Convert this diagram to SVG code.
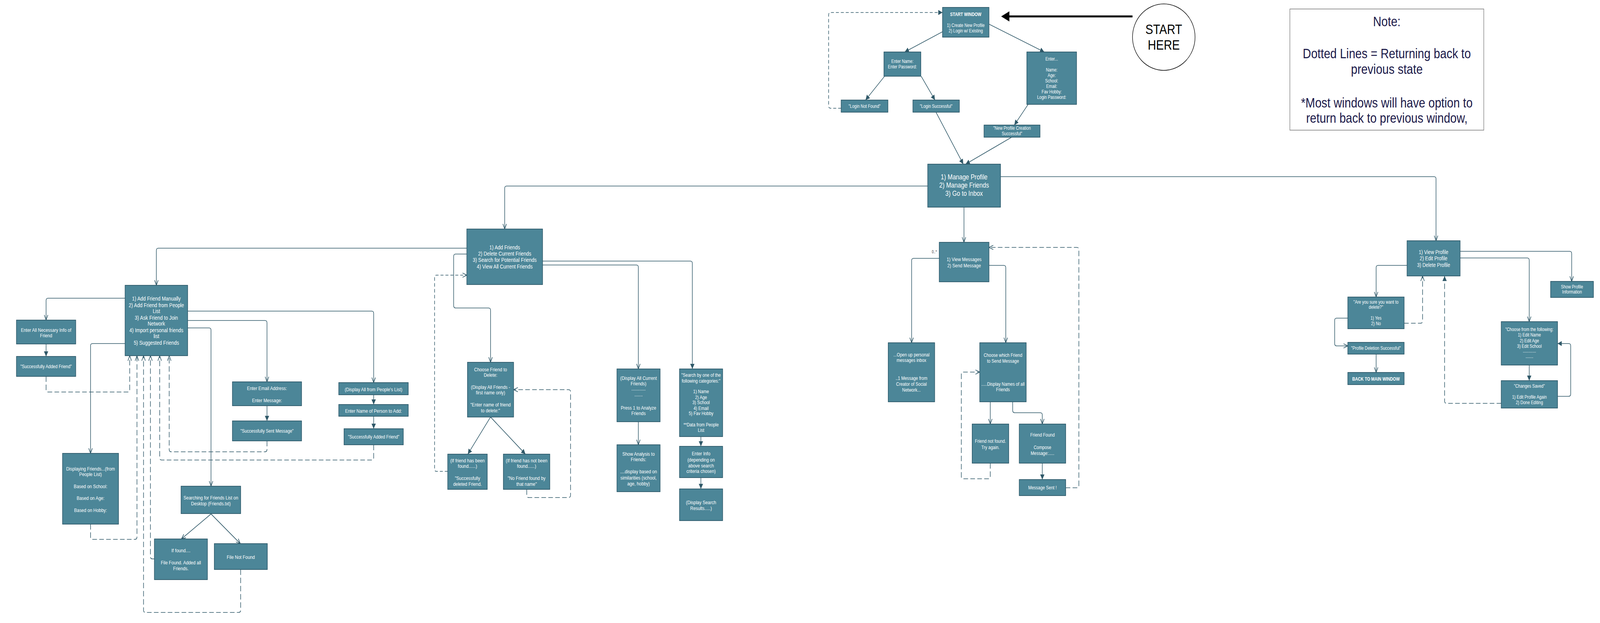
<svg xmlns="http://www.w3.org/2000/svg" width="4860" height="1594" viewBox="0 0 4860 1594" preserveAspectRatio="none">
<style>
svg{width:100vw;height:100vh}
.n{fill:#4c8698;stroke:#2e5a6b;stroke-width:1.8}
.t{font-family:"Liberation Sans",Arial,Helvetica,sans-serif;fill:#ffffff;text-anchor:middle;font-size:13px}
.s12{font-size:12px}.s125{font-size:12.5px}.s14{font-size:14px}.s143{font-size:14.3px}.s144{font-size:14.4px}.s18{font-size:18px}
.b{font-weight:bold}
.c{fill:none;stroke:#2f5868;stroke-width:1.7}
.o{marker-end:url(#ao)}
.f{marker-end:url(#af)}
.d{stroke-dasharray:14,7}
.d2{stroke-dasharray:9,6}
.note{font-family:"Liberation Sans",Arial,Helvetica,sans-serif;fill:#1c1a4a;text-anchor:middle;font-size:35px}
.lbl{font-family:"Liberation Sans",Arial,sans-serif;font-size:10px;fill:#333;text-anchor:middle}
.big{font-family:"Liberation Sans",Arial,sans-serif;font-size:35px;fill:#000;text-anchor:middle}
</style>
<defs>
<marker id="ao" markerUnits="userSpaceOnUse" markerWidth="16" markerHeight="14" refX="14" refY="7" orient="auto">
<path d="M1,1.5 L14,7 L1,12.5" fill="none" stroke="#2f5868" stroke-width="1.8"/>
</marker>
<marker id="af" markerUnits="userSpaceOnUse" markerWidth="14" markerHeight="14" refX="13" refY="7" orient="auto">
<path d="M0,0.5 L13,7 L0,13.5 z" fill="#2f5868"/>
</marker>
</defs>
<rect width="4860" height="1594" fill="#ffffff"/>

<g id="connectors">
<path class="c f" d="M2870,78 L2748,133"/>
<path class="c f" d="M3000,60 L3172,133"/>
<path class="c f" d="M2687,195 L2629,256"/>
<path class="c f" d="M2798,195 L2840,256"/>
<path class="c f" d="M3123,267 L3081,320"/>
<path class="c f" d="M2843,287 L2926,420"/>
<path class="c f" d="M3073,351 L2933,420"/>
<line x1="3440" y1="42" x2="3060" y2="42" stroke="#000" stroke-width="5"/>
<polygon points="3041,42 3066,29 3066,55" fill="#000"/>
<path class="c o" d="M2818,476 H1539 Q1533,476 1533,482 V586"/>
<path class="c o" d="M3039,452 H4356 Q4362,452 4362,458 V616"/>
<path class="c o" d="M2928,530 V620"/>
<path class="c o" d="M1418,635 H481 Q475,635 475,641 V730"/>
<path class="c o" d="M1418,650 H1384 Q1378,650 1378,656 V782 Q1378,788 1384,788 H1484 Q1490,788 1490,794 V927"/>
<path class="c f" d="M1648,668 H2097 Q2103,668 2103,674 V944"/>
<path class="c o" d="M1648,678 H1933 Q1939,678 1939,684 V944"/>
<path class="c o" d="M380,763 H146 Q140,763 140,769 V819"/>
<path class="c o" d="M380,879 H281 Q275,879 275,885 V1160"/>
<path class="c o" d="M570,796 H1129 Q1135,796 1135,802 V979"/>
<path class="c o" d="M570,820 H805 Q811,820 811,826 V977"/>
<path class="c o" d="M570,839 H635 Q641,839 641,845 V1244"/>
<path class="c f" d="M140,880 V912"/>
<path class="c f" d="M811,1038 V1077"/>
<path class="c f" d="M1135,1010 V1035"/>
<path class="c f" d="M1135,1065 V1097"/>
<path class="c o" d="M641,1315 L551,1379"/>
<path class="c o" d="M641,1315 L730,1391"/>
<path class="c f" d="M1490,1067 L1421,1162"/>
<path class="c f" d="M1490,1067 L1596,1162"/>
<path class="c o" d="M1939,1079 V1138"/>
<path class="c f" d="M2129,1117 V1142"/>
<path class="c f" d="M2129,1222 V1251"/>
<path class="c o" d="M2853,661 H2775 Q2769,661 2769,667 V877"/>
<path class="c o" d="M3004,679 H3049 Q3055,679 3055,685 V877"/>
<path class="c o" d="M3008,1028 V1085"/>
<path class="c o" d="M3076,1028 V1050 Q3076,1056 3082,1056 H3160 Q3166,1056 3166,1062 V1085"/>
<path class="c f" d="M3166,1185 V1227"/>
<path class="c o" d="M4274,679 H4186 Q4180,679 4180,685 V760"/>
<path class="c o" d="M4435,643 H4768 Q4774,643 4774,649 V720"/>
<path class="c o" d="M4435,660 H4639 Q4645,660 4645,666 V823"/>
<path class="c o" d="M4149,814 H4060 Q4054,814 4054,820 V879 Q4054,885 4060,885 H4094"/>
<path class="c o" d="M4180,906 V953"/>
<path class="c f" d="M4645,934 V974"/>
<path class="c f" d="M4710,1014 H4765 Q4771,1014 4771,1008 V885 Q4771,879 4765,879 H4731"/>

<path class="c f d2" d="M2555,277 H2523 Q2517,277 2517,271 V38 Q2517,32 2523,32 H2863"/>
<path class="c o d" d="M140,963 V997 Q140,1003 146,1003 H388 Q394,1003 394,997 V910"/>
<path class="c o d" d="M275,1341 V1374 Q275,1380 281,1380 H410 Q416,1380 416,1374 V910"/>
<path class="c o d" d="M731,1457 V1561 Q731,1567 725,1567 H442 Q436,1567 436,1561 V910"/>
<path class="c o d" d="M469,1430 H463 Q457,1430 457,1424 V910"/>
<path class="c o d" d="M1135,1138 V1171 Q1135,1177 1129,1177 H491 Q485,1177 485,1171 V910"/>
<path class="c o d" d="M811,1128 V1150 Q811,1156 805,1156 H520 Q514,1156 514,1150 V910"/>
<path class="c o d2" d="M1360,1206 H1326 Q1320,1206 1320,1200 V710 Q1320,704 1326,704 H1418"/>
<path class="c o d" d="M1600,1252 V1267 Q1600,1273 1606,1273 H1727 Q1733,1273 1733,1267 V1003 Q1733,997 1727,997 H1560"/>
<path class="c o d" d="M3008,1185 V1219 Q3008,1225 3002,1225 H2926 Q2920,1225 2920,1219 V958 Q2920,952 2926,952 H2976"/>
<path class="c o d" d="M3237,1248 H3271 Q3277,1248 3277,1242 V639 Q3277,633 3271,633 H3004"/>
<path class="c o d" d="M4265,827 H4315 Q4321,827 4321,821 V706"/>
<path class="c f d" d="M4560,1032 H4394 Q4388,1032 4388,1026 V706"/>
<text class="lbl" x="2838" y="648">0..*</text>
</g>

<g id="start_window"><rect class="n" x="2863" y="19" width="141" height="76"/>
<text class="t s12"><tspan class="b" x="2933.5" y="41">START WINDOW</tspan><tspan x="2933.5" y="69">1) Create New Profile</tspan><tspan x="2933.5" y="83">2) Login w/ Existing</tspan></text></g>

<g id="enter_name"><rect class="n" x="2685" y="133" width="112" height="62"/>
<text class="t s12"><tspan x="2741" y="161">Enter Name:</tspan><tspan x="2741" y="175">Enter Password:</tspan></text></g>

<g id="enter_new"><rect class="n" x="3119" y="133" width="151" height="134"/>
<text class="t s12"><tspan x="3194.5" y="155">Enter...</tspan><tspan x="3194.5" y="183">Name:</tspan><tspan x="3194.5" y="197">Age:</tspan><tspan x="3194.5" y="211">School:</tspan><tspan x="3194.5" y="225">Email:</tspan><tspan x="3194.5" y="239">Fav Hobby:</tspan><tspan x="3194.5" y="253">Login Password:</tspan></text></g>

<g id="login_not_found"><rect class="n" x="2555" y="256" width="142" height="31"/>
<text class="t s12" x="2626" y="276">"Login Not Found"</text></g>

<g id="login_success"><rect class="n" x="2773" y="256" width="141" height="31"/>
<text class="t s12" x="2843.5" y="276">"Login Successful"</text></g>

<g id="new_profile"><rect class="n" x="2989" y="320" width="170" height="31"/>
<text class="t s12"><tspan x="3074" y="332">"New Profile Creation</tspan><tspan x="3074" y="346">Successful"</tspan></text></g>

<g id="start_here"><ellipse cx="3535" cy="95" rx="95" ry="85" fill="#ffffff" stroke="#000" stroke-width="1.5"/>
<text class="big"><tspan x="3535" y="87">START</tspan><tspan x="3535" y="127">HERE</tspan></text></g>

<g id="note"><rect x="3918" y="23" width="589" height="310" fill="#ffffff" stroke="#777" stroke-width="1.5"/>
<text class="note"><tspan x="4212.5" y="67">Note:</tspan><tspan x="4212.5" y="149">Dotted Lines = Returning back to</tspan><tspan x="4212.5" y="189">previous state</tspan><tspan x="4212.5" y="275">*Most windows will have option to</tspan><tspan x="4212.5" y="314">return back to previous window,</tspan></text></g>

<g id="manage_profile"><rect class="n" x="2818" y="420" width="221" height="110"/>
<text class="t s18"><tspan x="2928.5" y="459">1) Manage Profile</tspan><tspan x="2928.5" y="480">2) Manage Friends</tspan><tspan x="2928.5" y="501">3) Go to Inbox</tspan></text></g>

<g id="add_friends"><rect class="n" x="1418" y="586" width="230" height="142"/>
<text class="t s143"><tspan x="1533" y="638">1) Add Friends</tspan><tspan x="1533" y="654">2) Delete Current Friends</tspan><tspan x="1533" y="670">3) Search for Potential Friends</tspan><tspan x="1533" y="687">4) View All Current Friends</tspan></text></g>

<g id="view_messages"><rect class="n" x="2853" y="620" width="151" height="101"/>
<text class="t"><tspan x="2928.5" y="668">1) View Messages</tspan><tspan x="2928.5" y="684">2) Send Message</tspan></text></g>

<g id="view_profile"><rect class="n" x="4274" y="616" width="161" height="90"/>
<text class="t s14"><tspan x="4354.5" y="650">1) View Profile</tspan><tspan x="4354.5" y="666">2) Edit Profile</tspan><tspan x="4354.5" y="683">3) Delete Profile</tspan></text></g>

<g id="add_menu"><rect class="n" x="380" y="730" width="190" height="180"/>
<text class="t s144"><tspan x="475" y="769">1) Add Friend Manually</tspan><tspan x="475" y="786">2) Add Friend from People</tspan><tspan x="475" y="801">List</tspan><tspan x="475" y="818">3) Ask Friend to Join</tspan><tspan x="475" y="833">Network</tspan><tspan x="475" y="850">4) Import personal friends</tspan><tspan x="475" y="865">list</tspan><tspan x="475" y="882">5) Suggested Friends</tspan></text></g>

<g id="enter_all"><rect class="n" x="50" y="819" width="180" height="61"/>
<text class="t"><tspan x="140" y="849">Enter All Necessary Info of</tspan><tspan x="140" y="863">Friend</tspan></text></g>

<g id="success_added_manual"><rect class="n" x="50" y="912" width="180" height="51"/>
<text class="t s125" x="140" y="942">"Successfully Added Friend"</text></g>

<g id="displaying_friends"><rect class="n" x="190" y="1160" width="170" height="181"/>
<text class="t"><tspan x="275" y="1204">Displaying Friends...(from</tspan><tspan x="275" y="1218">People List)</tspan><tspan x="275" y="1249">Based on School:</tspan><tspan x="275" y="1279">Based on Age:</tspan><tspan x="275" y="1310">Based on Hobby:</tspan></text></g>

<g id="enter_email"><rect class="n" x="706" y="977" width="210" height="61"/>
<text class="t"><tspan x="811" y="998">Enter Email Address:</tspan><tspan x="811" y="1029">Enter Message:</tspan></text></g>

<g id="sent_message"><rect class="n" x="706" y="1077" width="210" height="51"/>
<text class="t s125" x="811" y="1107">"Successfully Sent Message"</text></g>

<g id="searching"><rect class="n" x="550" y="1244" width="181" height="70"/>
<text class="t"><tspan x="640.5" y="1278">Searching for Friends List on</tspan><tspan x="640.5" y="1293">Desktop (Friends.txt)</tspan></text></g>

<g id="if_found"><rect class="n" x="469" y="1379" width="161" height="104"/>
<text class="t"><tspan x="549.5" y="1413">If found....</tspan><tspan x="549.5" y="1444">File Found. Added all</tspan><tspan x="549.5" y="1459">Friends.</tspan></text></g>

<g id="file_not_found"><rect class="n" x="651" y="1391" width="161" height="66"/>
<text class="t" x="731.5" y="1430">File Not Found</text></g>

<g id="display_people"><rect class="n" x="1029" y="979" width="211" height="31"/>
<text class="t" x="1134.5" y="1001">(Display All from People's List)</text></g>

<g id="enter_person"><rect class="n" x="1029" y="1035" width="211" height="30"/>
<text class="t" x="1134.5" y="1056">Enter Name of Person to Add:</text></g>

<g id="success_added_people"><rect class="n" x="1045" y="1097" width="180" height="41"/>
<text class="t s125" x="1135" y="1122">"Successfully Added Friend"</text></g>

<g id="choose_delete"><rect class="n" x="1420" y="927" width="140" height="140"/>
<text class="t"><tspan x="1490" y="950">Choose Friend to</tspan><tspan x="1490" y="964">Delete:</tspan><tspan x="1490" y="995">(Display All Friends -</tspan><tspan x="1490" y="1009">first name only)</tspan><tspan x="1490" y="1040">"Enter name of friend</tspan><tspan x="1490" y="1055">to delete:"</tspan></text></g>

<g id="friend_deleted"><rect class="n" x="1360" y="1162" width="120" height="90"/>
<text class="t"><tspan x="1420" y="1183">(If friend has been</tspan><tspan x="1420" y="1197">found......)</tspan><tspan x="1420" y="1228">"Successfully</tspan><tspan x="1420" y="1243">deleted Friend.</tspan></text></g>

<g id="friend_not_deleted"><rect class="n" x="1529" y="1162" width="141" height="90"/>
<text class="t"><tspan x="1599.5" y="1183">(If friend has not been</tspan><tspan x="1599.5" y="1197">found......)</tspan><tspan x="1599.5" y="1228">"No Friend found by</tspan><tspan x="1599.5" y="1243">that name"</tspan></text></g>

<g id="display_current"><rect class="n" x="1874" y="944" width="131" height="135"/>
<text class="t"><tspan x="1939.5" y="972">(Display All Current</tspan><tspan x="1939.5" y="986">Friends)</tspan><tspan x="1939.5" y="999">............</tspan><tspan x="1939.5" y="1014">.......</tspan><tspan x="1939.5" y="1048">Press 1 to Analyze</tspan><tspan x="1939.5" y="1062">Friends</tspan></text></g>

<g id="show_analysis"><rect class="n" x="1874" y="1138" width="131" height="120"/>
<text class="t"><tspan x="1939.5" y="1166">Show Analysis to</tspan><tspan x="1939.5" y="1180">Friends:</tspan><tspan x="1939.5" y="1211">....display based on</tspan><tspan x="1939.5" y="1227">similarities (school,</tspan><tspan x="1939.5" y="1242">age, hobby)</tspan></text></g>

<g id="search_by"><rect class="n" x="2064" y="944" width="131" height="173"/>
<text class="t s125"><tspan x="2129.5" y="964">"Search by one of the</tspan><tspan x="2129.5" y="979">following categories:"</tspan><tspan x="2129.5" y="1006">1) Name</tspan><tspan x="2129.5" y="1021">2) Age</tspan><tspan x="2129.5" y="1034">3) School</tspan><tspan x="2129.5" y="1049">4) Email</tspan><tspan x="2129.5" y="1062">5) Fav Hobby</tspan><tspan x="2129.5" y="1091">**Data from People</tspan><tspan x="2129.5" y="1105">List</tspan></text></g>

<g id="enter_info"><rect class="n" x="2064" y="1142" width="131" height="80"/>
<text class="t"><tspan x="2129.5" y="1165">Enter Info</tspan><tspan x="2129.5" y="1181">(depending on</tspan><tspan x="2129.5" y="1196">above search</tspan><tspan x="2129.5" y="1210">criteria chosen)</tspan></text></g>

<g id="display_results"><rect class="n" x="2064" y="1251" width="131" height="81"/>
<text class="t"><tspan x="2129.5" y="1290">(Display Search</tspan><tspan x="2129.5" y="1305">Results.....)</tspan></text></g>

<g id="open_inbox"><rect class="n" x="2698" y="877" width="141" height="151"/>
<text class="t s125"><tspan x="2768.5" y="912">...Open up personal</tspan><tspan x="2768.5" y="926">messages inbox</tspan><tspan x="2768.5" y="972">..1 Message from</tspan><tspan x="2768.5" y="987">Creator of Social</tspan><tspan x="2768.5" y="1002">Network...</tspan></text></g>

<g id="choose_send"><rect class="n" x="2976" y="877" width="141" height="151"/>
<text class="t s125"><tspan x="3046.5" y="913">Choose which Friend</tspan><tspan x="3046.5" y="928">to Send Message</tspan><tspan x="3046.5" y="987">.....Display Names of all</tspan><tspan x="3046.5" y="1001">Friends</tspan></text></g>

<g id="friend_not_found"><rect class="n" x="2953" y="1085" width="111" height="100"/>
<text class="t s125"><tspan x="3008.5" y="1133">Friend not found.</tspan><tspan x="3008.5" y="1149">Try again.</tspan></text></g>

<g id="friend_found"><rect class="n" x="3096" y="1085" width="141" height="100"/>
<text class="t s125"><tspan x="3166.5" y="1117">Friend Found</tspan><tspan x="3166.5" y="1149">Compose</tspan><tspan x="3166.5" y="1164">Message:.....</tspan></text></g>

<g id="message_sent"><rect class="n" x="3096" y="1227" width="141" height="41"/>
<text class="t s125" x="3166.5" y="1252">Message Sent !</text></g>

<g id="are_you_sure"><rect class="n" x="4094" y="760" width="171" height="81"/>
<text class="t s12"><tspan x="4179.5" y="777">"Are you sure you want to</tspan><tspan x="4179.5" y="790">delete?"</tspan><tspan x="4179.5" y="818">1) Yes</tspan><tspan x="4179.5" y="832">2) No</tspan></text></g>

<g id="show_profile_info"><rect class="n" x="4710" y="720" width="130" height="41"/>
<text class="t s12"><tspan x="4775" y="738">Show Profile</tspan><tspan x="4775" y="751">Information</tspan></text></g>

<g id="profile_deleted"><rect class="n" x="4094" y="876" width="171" height="30"/>
<text class="t s12" x="4179.5" y="895">"Profile Deletion Successful"</text></g>

<g id="back_main"><rect class="n" x="4094" y="953" width="171" height="31"/>
<text class="t s12 b" x="4179.5" y="974">BACK TO MAIN WINDOW</text></g>

<g id="choose_following"><rect class="n" x="4560" y="823" width="171" height="111"/>
<text class="t s12"><tspan x="4645.5" y="847">"Choose from the following:</tspan><tspan x="4645.5" y="861">1) Edit Name</tspan><tspan x="4645.5" y="876">2) Edit Age</tspan><tspan x="4645.5" y="890">3) Edit School</tspan><tspan x="4645.5" y="902">............</tspan><tspan x="4645.5" y="916">.......</tspan></text></g>

<g id="changes_saved"><rect class="n" x="4560" y="974" width="171" height="70"/>
<text class="t s12"><tspan x="4645.5" y="992">"Changes Saved"</tspan><tspan x="4645.5" y="1020">1) Edit Profile Again</tspan><tspan x="4645.5" y="1034">2) Done Editing</tspan></text></g>
</svg>
